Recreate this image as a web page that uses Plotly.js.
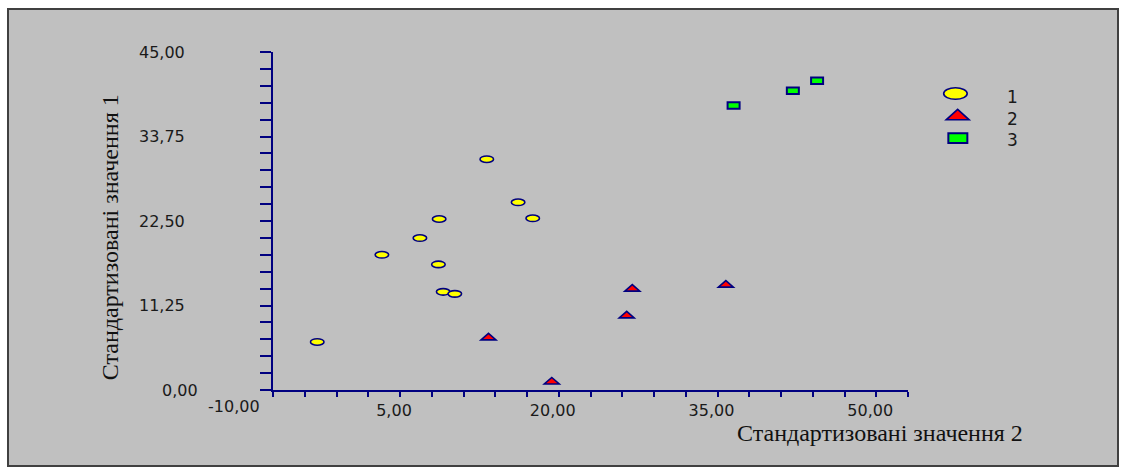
<!DOCTYPE html>
<html><head><meta charset="utf-8">
<script src="https://cdn.plot.ly/plotly-3.0.1.min.js"></script>
<style>
html,body{margin:0;padding:0;background:#fff;}
#chart{position:absolute;left:7px;top:8px;width:1108px;height:455px;border:2px solid #404040;}
</style></head><body>
<div id="chart"></div>
<script>
// ---- data ----
const groupNames = ['1', '2', '3'];
const x1 = [13.2, 16.16, 17.54, 8.70, 6.88, 3.29, 8.63, 9.08, 10.18, -2.82];
const y1 = [30.73, 24.99, 22.86, 22.77, 20.23, 18.0, 16.72, 13.07, 12.80, 6.40];
const x2 = [13.36, 19.34, 26.42, 26.95, 35.79];
const y2 = [7.07, 1.2, 10.0, 13.56, 14.1];
const x3 = [36.52, 42.12, 44.41];
const y3 = [37.88, 39.84, 41.17];
const xTickVals = [5, 20, 35, 50];
const xOutsideTick = -10;
const yTickVals = [11.25, 22.5, 33.75, 45];
const yZeroTick = 0;
const xTitle = 'Стандартизовані значення 2';
const yTitle = 'Стандартизовані значення 1';

// ---- styles ----
const NAVY = '#000080';
const XMIN = -7, XMAX = 53;
const fmt = v => v.toFixed(2).replace('.', ',');
const TICKFONT = {family: 'DejaVu Sans', size: 16, color: '#1a1a1a'};

function ellipse(xr, yr, x, y, w, h, fill, lw) {
  return {type: 'circle', xref: xr, yref: yr, xsizemode: 'pixel', ysizemode: 'pixel',
    xanchor: x, yanchor: y, x0: -w / 2, x1: w / 2, y0: -h / 2, y1: h / 2,
    fillcolor: fill, line: {color: NAVY, width: lw}, layer: 'above'};
}
function triangle(xr, yr, x, y, hw, base, apex, fill, lw) {
  return {type: 'path', xref: xr, yref: yr, xsizemode: 'pixel', ysizemode: 'pixel',
    xanchor: x, yanchor: y,
    path: `M ${-hw},${base} L ${hw},${base} L 0,${apex} Z`,
    fillcolor: fill, line: {color: NAVY, width: lw}, layer: 'above'};
}
function rect(xr, yr, x, y, w, h, fill, lw) {
  return {type: 'rect', xref: xr, yref: yr, xsizemode: 'pixel', ysizemode: 'pixel',
    xanchor: x, yanchor: y, x0: -w / 2, x1: w / 2, y0: -h / 2, y1: h / 2,
    fillcolor: fill, line: {color: NAVY, width: lw}, layer: 'above'};
}

const shapes = [];
x1.forEach((x, i) => shapes.push(ellipse('x', 'y', x, y1[i], 13.5, 6.5, '#ffff00', 1.6)));
x2.forEach((x, i) => shapes.push(triangle('x', 'y', x, y2[i], 7.5, -3, 3.5, '#ff0000', 1.6)));
x3.forEach((x, i) => shapes.push(rect('x', 'y', x, y3[i], 12, 6.3, '#00ff00', 2)));

// legend (drawn in paper coords)
shapes.push(ellipse('paper', 'paper', 1.0747, 0.877, 23.5, 11.5, '#ffff00', 1.6));
shapes.push(triangle('paper', 'paper', 1.0782, 0.8142, 11.5, -5, 5.5, '#ff0000', 1.6));
shapes.push(rect('paper', 'paper', 1.0785, 0.7454, 19, 9.7, '#00ff00', 2));

const legendY = [0.8666, 0.8014, 0.7392];
const annotations = groupNames.map((n, i) => ({
  text: n, xref: 'paper', yref: 'paper', x: 1.1647, y: legendY[i],
  xanchor: 'center', yanchor: 'middle', showarrow: false,
  font: {family: 'DejaVu Sans', size: 17, color: '#1a1a1a'}
}));
// "-10,00" label lies left of the drawn axis range
annotations.push({text: fmt(xOutsideTick), xref: 'paper', yref: 'paper',
  x: (xOutsideTick - XMIN) / (XMAX - XMIN), y: -0.0498,
  xshift: -7, xanchor: 'center', yanchor: 'middle', showarrow: false, font: TICKFONT});
annotations.push({text: fmt(yZeroTick), xref: 'paper', yref: 'y', x: -0.1458, y: yZeroTick,
  xanchor: 'center', yanchor: 'middle', showarrow: false, font: TICKFONT});
annotations.push({text: xTitle, xref: 'paper', yref: 'paper', x: 0.9563, y: -0.1283,
  xanchor: 'center', yanchor: 'middle', showarrow: false,
  font: {family: 'Liberation Serif', size: 24, color: '#111'}});
annotations.push({text: yTitle, xref: 'paper', yref: 'paper', x: -0.2565, y: 0.4526,
  xanchor: 'center', yanchor: 'middle', showarrow: false, textangle: -90,
  font: {family: 'Liberation Serif', size: 24, color: '#111'}});

const traces = [
  {x: x1, y: y1, name: groupNames[0], type: 'scatter', mode: 'markers', marker: {opacity: 0}, hoverinfo: 'x+y'},
  {x: x2, y: y2, name: groupNames[1], type: 'scatter', mode: 'markers', marker: {opacity: 0}, hoverinfo: 'x+y'},
  {x: x3, y: y3, name: groupNames[2], type: 'scatter', mode: 'markers', marker: {opacity: 0}, hoverinfo: 'x+y'}
];

const layout = {
  width: 1108, height: 455,
  margin: {l: 263.7, r: 208.7, t: 42.3, b: 75.3, pad: 0},
  paper_bgcolor: '#c0c0c0', plot_bgcolor: '#c0c0c0',
  showlegend: false,
  separators: ', ',
  font: {family: 'DejaVu Sans', size: 16, color: '#1a1a1a'},
  xaxis: {
    range: [XMIN, XMAX], showgrid: false, zeroline: false,
    showline: true, linecolor: NAVY, linewidth: 2,
    tickmode: 'array', tickvals: xTickVals, tickformat: '.2f',
    ticks: 'outside', ticklen: 5, tickwidth: 2, tickcolor: NAVY,
    ticklabelshift: -6, ticklabelstandoff: 0,
    minor: {tickmode: 'linear', tick0: -7, dtick: 3, ticks: 'outside', ticklen: 5, tickwidth: 2, tickcolor: NAVY},
    tickfont: TICKFONT
  },
  yaxis: {
    range: [0, 45], showgrid: false, zeroline: false,
    showline: true, linecolor: NAVY, linewidth: 2,
    tickmode: 'array', tickvals: yTickVals, tickformat: '.2f',
    ticks: 'outside', ticklen: 11, tickwidth: 2, tickcolor: NAVY,
    ticklabelstandoff: 72,
    minor: {tickmode: 'linear', tick0: 0, dtick: 2.25, ticks: 'outside', ticklen: 11, tickwidth: 2, tickcolor: NAVY},
    tickfont: TICKFONT
  },
  shapes: shapes,
  annotations: annotations
};

Plotly.newPlot('chart', traces, layout, {displayModeBar: false, staticPlot: true});
</script>
</body></html>
